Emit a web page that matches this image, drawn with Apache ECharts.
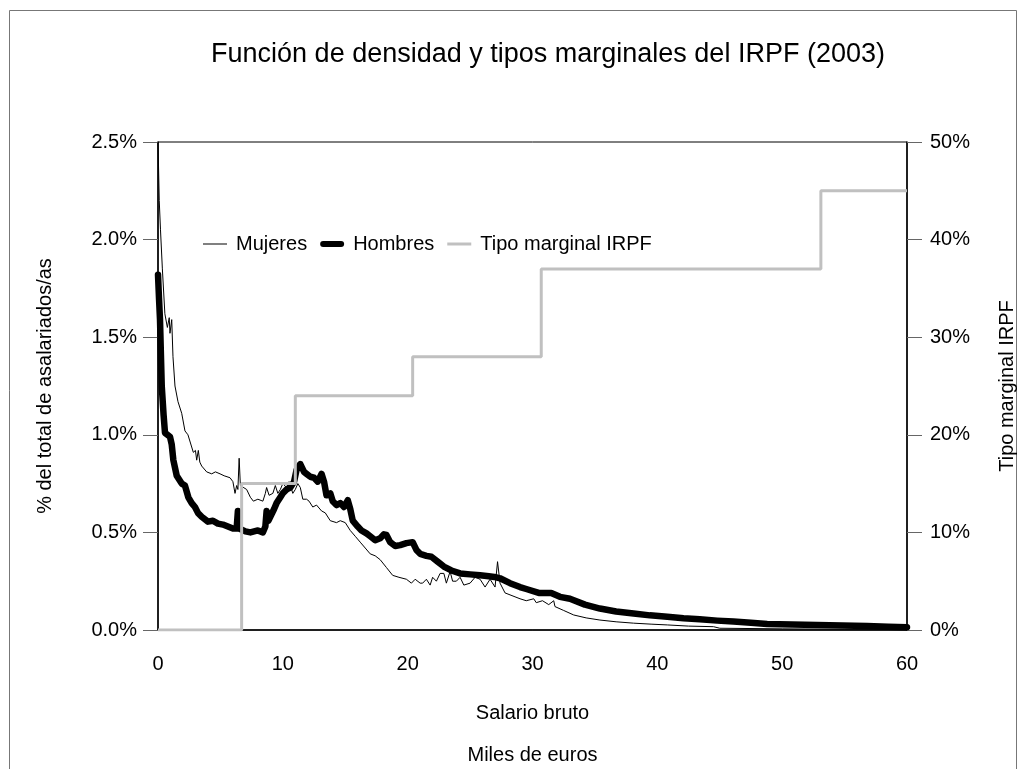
<!DOCTYPE html>
<html>
<head>
<meta charset="utf-8">
<script src="https://cdn.jsdelivr.net/npm/echarts@6/dist/echarts.min.js"></script>
<style>
  html, body { margin: 0; padding: 0; background: #fff; }
  #chart { width: 1026px; height: 769px; }
</style>
</head>
<body>
<div id="chart"></div>
<script>
// Salario bruto (miles de euros) y densidad (%) - mujeres
const salarioMujeres = [0, 0.1, 0.2, 0.35, 0.55, 0.75, 0.9, 0.96, 1.1, 1.2, 1.36, 1.6, 1.9, 2.0, 2.16, 2.4, 2.56, 2.83, 3.0, 3.1, 3.23, 3.35, 3.5, 3.9, 4.3, 4.6, 4.97, 5.3, 5.77, 6.0, 6.17, 6.3, 6.4, 6.5, 6.6, 6.7, 7.1, 7.4, 7.64, 8.0, 8.4, 8.6, 8.7, 8.9, 9.2, 9.4, 9.6, 9.8, 10.0, 10.3, 10.5, 10.8, 11.0, 11.2, 11.4, 11.6, 11.9, 12.1, 12.4, 12.7, 13.1, 13.4, 13.8, 14.3, 14.6, 15.0, 15.4, 15.8, 16.2, 16.6, 17.0, 17.4, 17.8, 18.3, 18.8, 19.3, 19.9, 20.3, 20.6, 21.0, 21.2, 21.5, 21.8, 22.0, 22.3, 22.6, 22.9, 23.1, 23.4, 23.6, 23.9, 24.2, 24.5, 25.0, 25.4, 25.8, 26.2, 26.6, 27.0, 27.2, 27.4, 27.8, 28.2, 28.6, 29.0, 29.5, 30.1, 30.3, 30.8, 31.3, 31.7, 31.8, 32.5, 33.3, 34.3, 35.4, 36.7, 38.1, 39.5, 40.8, 42.5, 44.5, 45.0, 50, 55, 60];
const mujeres = [2.50, 2.20, 2.05, 1.85, 1.62, 1.55, 1.60, 1.52, 1.59, 1.40, 1.25, 1.17, 1.11, 1.12, 1.02, 1.00, 0.99, 0.91, 0.92, 0.87, 0.92, 0.86, 0.84, 0.81, 0.80, 0.81, 0.80, 0.79, 0.78, 0.76, 0.70, 0.74, 0.72, 0.88, 0.74, 0.73, 0.72, 0.68, 0.66, 0.67, 0.66, 0.70, 0.73, 0.69, 0.70, 0.74, 0.70, 0.72, 0.75, 0.73, 0.76, 0.70, 0.72, 0.75, 0.73, 0.67, 0.67, 0.66, 0.63, 0.64, 0.61, 0.60, 0.56, 0.55, 0.56, 0.55, 0.51, 0.48, 0.45, 0.42, 0.39, 0.38, 0.36, 0.32, 0.28, 0.27, 0.26, 0.24, 0.26, 0.24, 0.24, 0.26, 0.23, 0.27, 0.25, 0.29, 0.29, 0.24, 0.30, 0.25, 0.25, 0.27, 0.23, 0.24, 0.27, 0.26, 0.22, 0.26, 0.22, 0.35, 0.24, 0.19, 0.18, 0.17, 0.16, 0.15, 0.16, 0.14, 0.15, 0.13, 0.15, 0.12, 0.10, 0.077, 0.062, 0.051, 0.042, 0.035, 0.030, 0.026, 0.020, 0.017, 0.009, 0.006, 0.004, 0.003];

// hombres
const salarioHombres = [0, 0.08, 0.16, 0.3, 0.45, 0.56, 0.96, 1.1, 1.23, 1.5, 1.9, 2.16, 2.43, 2.7, 2.96, 3.2, 3.5, 4.0, 4.4, 4.8, 5.2, 5.6, 6.0, 6.3, 6.4, 6.5, 6.56, 7.0, 7.4, 8.0, 8.4, 8.6, 8.7, 8.85, 9.0, 9.3, 9.5, 9.8, 10.0, 10.3, 10.6, 10.9, 11.1, 11.4, 11.7, 11.9, 12.2, 12.5, 12.8, 13.1, 13.3, 13.5, 13.8, 14.0, 14.3, 14.6, 14.9, 15.2, 15.4, 15.6, 16.0, 16.3, 16.7, 17.0, 17.4, 17.8, 18.1, 18.3, 18.6, 19.0, 19.4, 19.9, 20.4, 20.7, 21.0, 21.5, 21.9, 22.4, 22.9, 23.5, 24.2, 25.0, 25.8, 26.5, 27.1, 27.4, 28.2, 29.0, 29.5, 30.5, 31.5, 32.2, 33.0, 34.2, 35.4, 36.7, 38.1, 39.4, 40.8, 42.1, 43.4, 44.8, 46.1, 47.5, 48.8, 50.8, 52.8, 54.8, 56.8, 58.5, 60];
const hombres = [1.82, 1.70, 1.59, 1.25, 1.10, 1.01, 0.99, 0.95, 0.87, 0.79, 0.75, 0.74, 0.68, 0.65, 0.63, 0.60, 0.58, 0.555, 0.56, 0.545, 0.54, 0.53, 0.52, 0.52, 0.61, 0.52, 0.51, 0.505, 0.50, 0.51, 0.50, 0.53, 0.61, 0.56, 0.56, 0.62, 0.65, 0.68, 0.70, 0.72, 0.73, 0.76, 0.82, 0.85, 0.81, 0.80, 0.785, 0.78, 0.76, 0.80, 0.76, 0.69, 0.70, 0.66, 0.64, 0.65, 0.63, 0.665, 0.62, 0.56, 0.53, 0.51, 0.495, 0.48, 0.46, 0.47, 0.49, 0.487, 0.45, 0.43, 0.435, 0.445, 0.45, 0.41, 0.39, 0.38, 0.375, 0.35, 0.325, 0.305, 0.29, 0.285, 0.28, 0.275, 0.27, 0.265, 0.24, 0.22, 0.21, 0.19, 0.19, 0.17, 0.16, 0.13, 0.11, 0.095, 0.085, 0.075, 0.068, 0.06, 0.055, 0.048, 0.043, 0.037, 0.031, 0.028, 0.026, 0.023, 0.02, 0.017, 0.014];

// tipo marginal IRPF (%), escalones
const salarioTramos = [0, 6.7, 11.0, 20.4, 30.7, 53.1, 60];
const tipoMarginal = [0, 15, 24, 28, 37, 45, 45];

const pairs = (xs, ys) => xs.map((x, i) => [x, ys[i]]);

const chart = echarts.init(document.getElementById('chart'));
const font = 'Liberation Sans, Arial, sans-serif';

chart.setOption({
    animation: false,
    backgroundColor: '#fff',
    textStyle: { fontFamily: font, color: '#000' },
    title: {
        text: 'Función de densidad y tipos marginales del IRPF (2003)',
        left: 543, top: 36, textAlign: 'center',
        textStyle: { fontFamily: font, fontSize: 27, fontWeight: 'normal', color: '#000' }
    },
    graphic: [{
        type: 'rect', silent: true,
        shape: { x: 9.5, y: 10.5, width: 1007, height: 800 },
        style: { fill: 'none', stroke: '#777', lineWidth: 1 }
    }],
    legend: {
        left: 198, top: 229,
        itemWidth: 24, itemHeight: 14, itemGap: 13,
        textStyle: { fontFamily: font, fontSize: 20, color: '#000', padding: [0, 0, 0, 4] },
        data: [
            { name: 'Mujeres', icon: 'path://M0,0H24V1H0Z' },
            { name: 'Hombres', icon: 'path://M3,0H21A3,3,0,0,1,21,6H3A3,3,0,0,1,3,0Z' },
            { name: 'Tipo marginal IRPF', icon: 'path://M0,0H24V3H0Z' }
        ]
    },
    grid: {
        left: 158, right: 119, top: 142, bottom: 139,
        outerBoundsMode: 'none',
        show: true, borderColor: '#000', borderWidth: 1
    },
    xAxis: {
        type: 'value', min: 0, max: 60, interval: 10,
        name: 'Salario bruto\nMiles de euros', nameLocation: 'middle', nameGap: 62,
        nameTextStyle: { fontFamily: font, fontSize: 20, color: '#000', lineHeight: 42 },
        axisLine: { lineStyle: { color: '#000', width: 1.5 } },
        axisTick: { show: false },
        splitLine: { show: false },
        axisLabel: { fontFamily: font, fontSize: 20, color: '#000', margin: 24 }
    },
    yAxis: [{
        type: 'value', min: 0, max: 2.5, interval: 0.5, position: 'left',
        name: '% del total de asalariados/as', nameLocation: 'middle', nameGap: 103,
        nameTextStyle: { fontFamily: font, fontSize: 20, color: '#000' },
        axisLine: { show: true, lineStyle: { color: '#000', width: 1.5 } },
        axisTick: { show: true, length: 15, lineStyle: { color: '#666' } },
        splitLine: { show: false },
        axisLabel: { fontFamily: font, fontSize: 20, color: '#000', margin: 21,
            formatter: v => v.toFixed(1) + '%' }
    }, {
        type: 'value', min: 0, max: 50, interval: 10, position: 'right',
        name: 'Tipo marginal IRPF', nameLocation: 'middle', nameGap: 90,
        nameTextStyle: { fontFamily: font, fontSize: 20, color: '#000' },
        axisLine: { show: true, lineStyle: { color: '#000', width: 1.5 } },
        axisTick: { show: true, length: 15, lineStyle: { color: '#666' } },
        splitLine: { show: false },
        axisLabel: { fontFamily: font, fontSize: 20, color: '#000', margin: 23,
            formatter: v => v + '%' }
    }],
    series: [{
        name: 'Mujeres', type: 'line', yAxisIndex: 0, symbol: 'none',
        data: pairs(salarioMujeres, mujeres),
        lineStyle: { color: '#000', width: 1 }, itemStyle: { color: '#000' }
    }, {
        name: 'Hombres', type: 'line', yAxisIndex: 0, symbol: 'none',
        data: pairs(salarioHombres, hombres),
        lineStyle: { color: '#000', width: 6.5, join: 'round', cap: 'round' }, itemStyle: { color: '#000' }
    }, {
        name: 'Tipo marginal IRPF', type: 'line', yAxisIndex: 1, symbol: 'none', step: 'end',
        data: pairs(salarioTramos, tipoMarginal),
        lineStyle: { color: '#c0c0c0', width: 3 }, itemStyle: { color: '#c0c0c0' }
    }]
});
window.addEventListener('resize', () => chart.resize());
</script>
</body>
</html>
